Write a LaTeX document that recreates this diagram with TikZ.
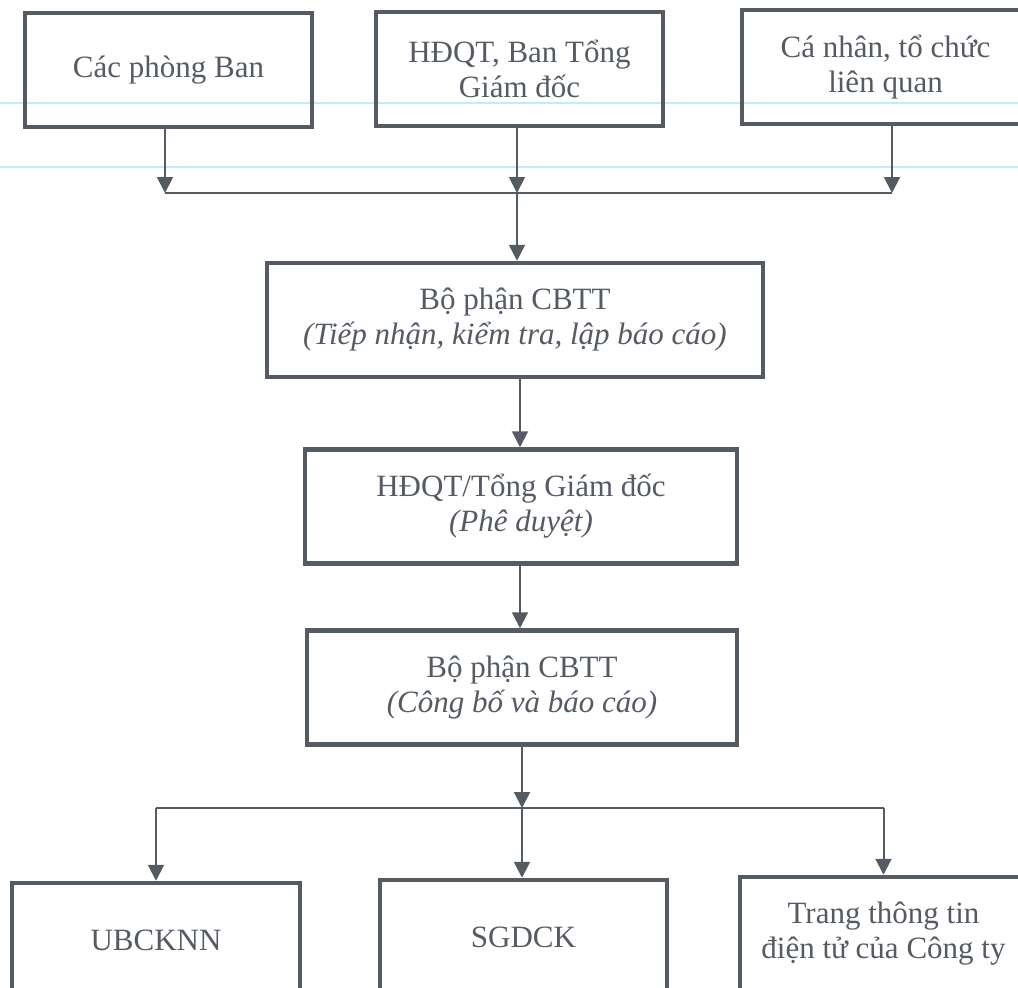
\documentclass[tikz,border=0pt]{standalone}
\usepackage{fontspec}
\setmainfont{Liberation Serif}
\usetikzlibrary{arrows.meta}
\definecolor{ink}{HTML}{555B63}
\definecolor{rule}{HTML}{BFEFF2}
\begin{document}
\begin{tikzpicture}[x=1pt,y=-1pt,
  box/.style={draw=ink, line width=4.5pt, text=ink, align=center, inner sep=0pt,
    minimum height=114pt, font=\fontsize{31}{35}\selectfont},
  conn/.style={draw=ink, line width=2pt},
  arr/.style={conn, -{Triangle[length=16pt,width=16pt]}},
  scanline/.style={draw=rule, line width=1.2pt}]
\useasboundingbox (0,0) rectangle (1018,988);
\fill[white] (0,0) rectangle (1018,988);
% faint ruled lines of the scan
\coordinate (r1a) at (0,103); \coordinate (r1b) at (1018,103);
\coordinate (r2a) at (0,167); \coordinate (r2b) at (1018,167);
\draw[scanline] (r1a) -- (r1b);
\draw[scanline] (r2a) -- (r2b);
% top row
\node[box, minimum width=287pt] (b1) at (168.5,70) {Các phòng Ban};
\node[box, minimum width=287pt] (b2) at (519.5,69) {HĐQT, Ban Tổng\\Giám đốc};
\node[box, minimum width=287pt] (b3) at (885.5,67) {Cá nhân, tổ chức\\liên quan};
% middle column
\node[box, minimum width=496pt] (b4) at (515,320) {Bộ phận CBTT\\\textit{(Tiếp nhận, kiểm tra, lập báo cáo)}};
\node[box, minimum width=432pt] (b5) at (521,506.5) {HĐQT/Tổng Giám đốc\\\textit{(Phê duyệt)}};
\node[box, minimum width=430pt] (b6) at (522,687.5) {Bộ phận CBTT\\\textit{(Công bố và báo cáo)}};
% bottom row
\node[box, minimum width=288pt] (b7) at (156,940) {UBCKNN};
\node[box, minimum width=287pt] (b8) at (523.5,937) {SGDCK};
\node[box, minimum width=287pt] (b9) at (883.5,934) {Trang thông tin\\điện tử của Công ty};
% gathering connectors
\coordinate (j1) at (517,193);
\draw[arr] (b1.south -| 165,0) -- (165,193);
\draw[arr] (b2.south -| j1) -- (j1);
\draw[arr] (b3.south -| 892,0) -- (892,193);
\draw[conn] (165,193) -- (892,193);
\draw[arr] (j1) -- (j1 |- b4.north);
\draw[arr] (b4.south -| 520,0) -- (b5.north -| 520,0);
\draw[arr] (b5.south -| 520,0) -- (b6.north -| 520,0);
% distributing connectors
\coordinate (j2) at (522,808);
\draw[arr] (b6.south -| j2) -- (j2);
\draw[conn] (b7.north |- j2) -- (b9.north |- j2);
\draw[arr] (b7.north |- j2) -- (b7.north);
\draw[arr] (j2) -- (j2 |- b8.north);
\draw[arr] (b9.north |- j2) -- (b9.north);
\end{tikzpicture}
\end{document}
